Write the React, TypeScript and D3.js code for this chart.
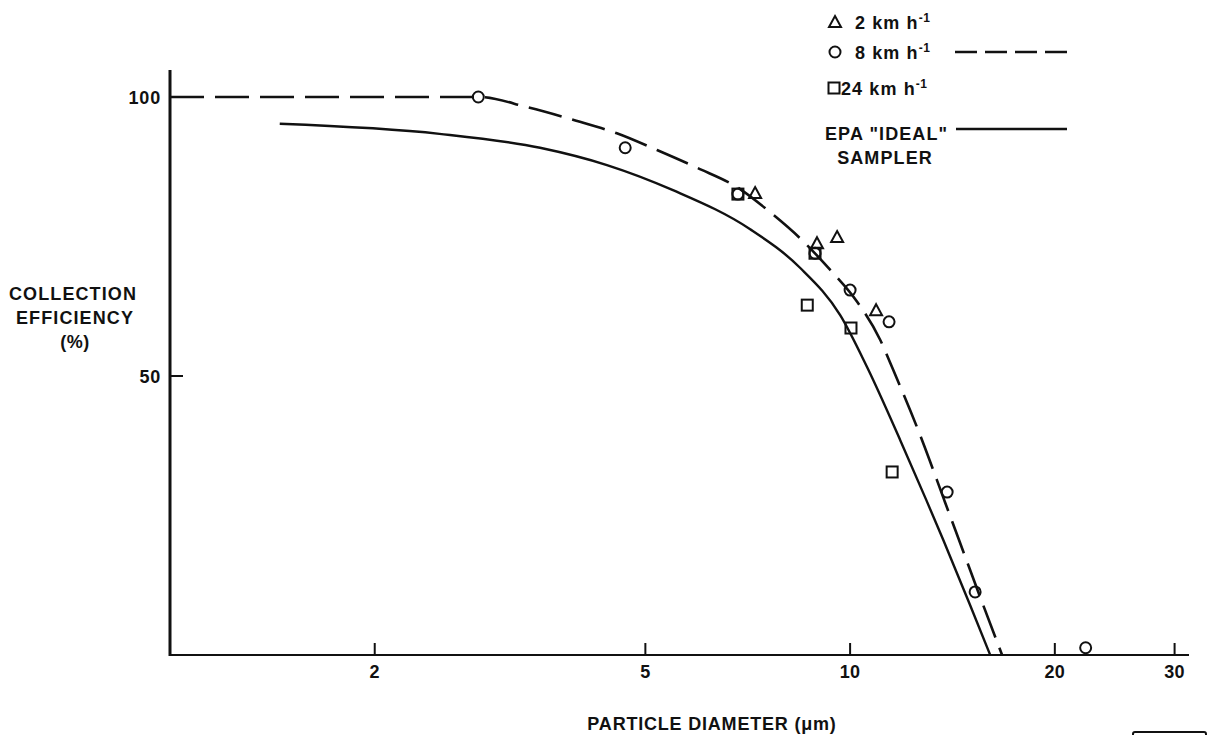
import React from "react";
import * as d3 from "d3";

// measured points, particle diameter (um) vs collection efficiency (%)
const diam2 = [7.25, 8.94, 9.57, 10.92];
const eff2 = [82.8, 73.8, 74.9, 61.8];
const diam8 = [2.84, 4.67, 6.84, 8.88, 10.0, 11.41, 13.89, 15.27, 22.2];
const eff8 = [100, 90.9, 82.6, 72.0, 65.4, 59.7, 29.2, 11.3, 1.3];
const diam24 = [6.84, 8.88, 8.65, 10.03, 11.53];
const eff24 = [82.6, 72.0, 62.7, 58.6, 32.8];

// dashed fit through the 8 km/h data
const fitDiam = [1.0, 1.5, 2.2, 2.84, 3.35, 3.97, 4.54, 5.2, 5.96, 6.89, 7.62, 8.44, 9.35, 10.24, 11.07, 11.57, 12.76, 13.75, 14.46, 15.69, 16.73];
const fitEff = [100, 100, 100, 100, 98.2, 95.7, 93.5, 90.5, 87.3, 83.5, 79.4, 74.7, 69.0, 63.3, 56.5, 51.1, 38.5, 27.8, 20.6, 8.96, 0];

// EPA "ideal" sampler curve
const epaDiam = [1.45, 2.49, 3.5, 4.39, 5.49, 7.13, 8.44, 9.67, 10.59, 11.85, 12.94, 13.71, 15.01, 16.07];
const epaEff = [95.2, 93.4, 90.9, 87.8, 83.3, 76.3, 69.4, 60.9, 51.6, 38.5, 27.8, 20.6, 8.96, 0];

const xTicks = [2, 5, 10, 20, 30];
const yTicks = [50, 100];

const W = 1211;
const H = 735;
const FONT = "'Liberation Sans', Arial, sans-serif";

const x = d3.scaleLog().domain([1, 31.5]).range([170, 1189]);
const y = d3.scaleLinear().domain([0, 100]).range([655, 97]);

const line = d3
  .line<[number, number]>()
  .x(d => x(d[0]))
  .y(d => y(d[1]))
  .curve(d3.curveMonotoneX);

const zip = (a: number[], b: number[]) => a.map((v, i) => [v, b[i]] as [number, number]);

const Circle = ({ cx, cy }: { cx: number; cy: number }) => (
  <circle cx={cx} cy={cy} r={5.5} fill="none" stroke="#111" strokeWidth={2} />
);
const Square = ({ cx, cy }: { cx: number; cy: number }) => (
  <rect x={cx - 5.5} y={cy - 5.5} width={11} height={11} fill="none" stroke="#111" strokeWidth={2} />
);
const Tri = ({ cx, cy }: { cx: number; cy: number }) => (
  <path d={`M${cx},${cy - 6}L${cx + 6},${cy + 5}L${cx - 6},${cy + 5}Z`} fill="none" stroke="#111" strokeWidth={2} />
);

const txt = { fontFamily: FONT, fontWeight: 700, fontSize: 18, letterSpacing: 1.1, fill: "#111" } as const;

const Unit = () => (
  <>
    km h<tspan dy={-7} fontSize={12} letterSpacing={0.5}>-1</tspan>
  </>
);

export default function App() {
  const top = y.invert(70);
  return (
    <svg width={W} height={H} style={{ position: "absolute", left: 0, top: 0, background: "#fff" }}>
      {/* axes */}
      <line x1={170} x2={170} y1={y(top)} y2={656} stroke="#111" strokeWidth={3} />
      <line x1={169} x2={x(31.5)} y1={655} y2={655} stroke="#111" strokeWidth={2.2} />
      {yTicks.map(t => (
        <g key={t}>
          <line x1={170} x2={183} y1={y(t)} y2={y(t)} stroke="#111" strokeWidth={2} />
          <text x={161} y={y(t) + 7} textAnchor="end" {...txt} letterSpacing={0.8}>{t}</text>
        </g>
      ))}
      {xTicks.map(t => (
        <g key={t}>
          <line x1={x(t)} x2={x(t)} y1={655} y2={643} stroke="#111" strokeWidth={2} />
          <text x={x(t)} y={678} textAnchor="middle" {...txt} letterSpacing={0.3}>{t}</text>
        </g>
      ))}

      {/* curves */}
      <path d={line(zip(fitDiam, fitEff)) || ""} fill="none" stroke="#111" strokeWidth={2.6} strokeDasharray="34,11" />
      <path d={line(zip(epaDiam, epaEff)) || ""} fill="none" stroke="#111" strokeWidth={2.4} />

      {/* data points */}
      {diam8.map((d, i) => <Circle key={"c" + i} cx={x(d)} cy={y(eff8[i])} />)}
      {diam24.map((d, i) => <Square key={"s" + i} cx={x(d)} cy={y(eff24[i])} />)}
      {diam2.map((d, i) => <Tri key={"t" + i} cx={x(d)} cy={y(eff2[i])} />)}

      {/* axis titles */}
      <text x={73} y={300} textAnchor="middle" {...txt}>COLLECTION</text>
      <text x={75} y={324} textAnchor="middle" {...txt}>EFFICIENCY</text>
      <text x={75} y={348} textAnchor="middle" {...txt} letterSpacing={0.5}>(%)</text>
      <text x={712} y={730} textAnchor="middle" {...txt} letterSpacing={0.8}>PARTICLE DIAMETER (μm)</text>

      {/* legend */}
      <Tri cx={835} cy={22} />
      <text x={855} y={29} {...txt}>2 <Unit /></text>
      <Circle cx={835} cy={52} />
      <text x={855} y={59} {...txt}>8 <Unit /></text>
      <line x1={955} x2={1067} y1={52} y2={52} stroke="#111" strokeWidth={2.6} strokeDasharray="22,8" />
      <Square cx={834} cy={88} />
      <text x={841} y={95} {...txt}>24 <Unit /></text>
      <text x={825} y={140} {...txt}>EPA "IDEAL"</text>
      <line x1={956} x2={1067} y1={129} y2={129} stroke="#111" strokeWidth={2.6} />
      <text x={885} y={164} textAnchor="middle" {...txt}>SAMPLER</text>

      {/* cut-off stamp box at the page corner */}
      <rect x={1133} y={732} width={73} height={12} rx={2} fill="none" stroke="#111" strokeWidth={2} />
    </svg>
  );
}
